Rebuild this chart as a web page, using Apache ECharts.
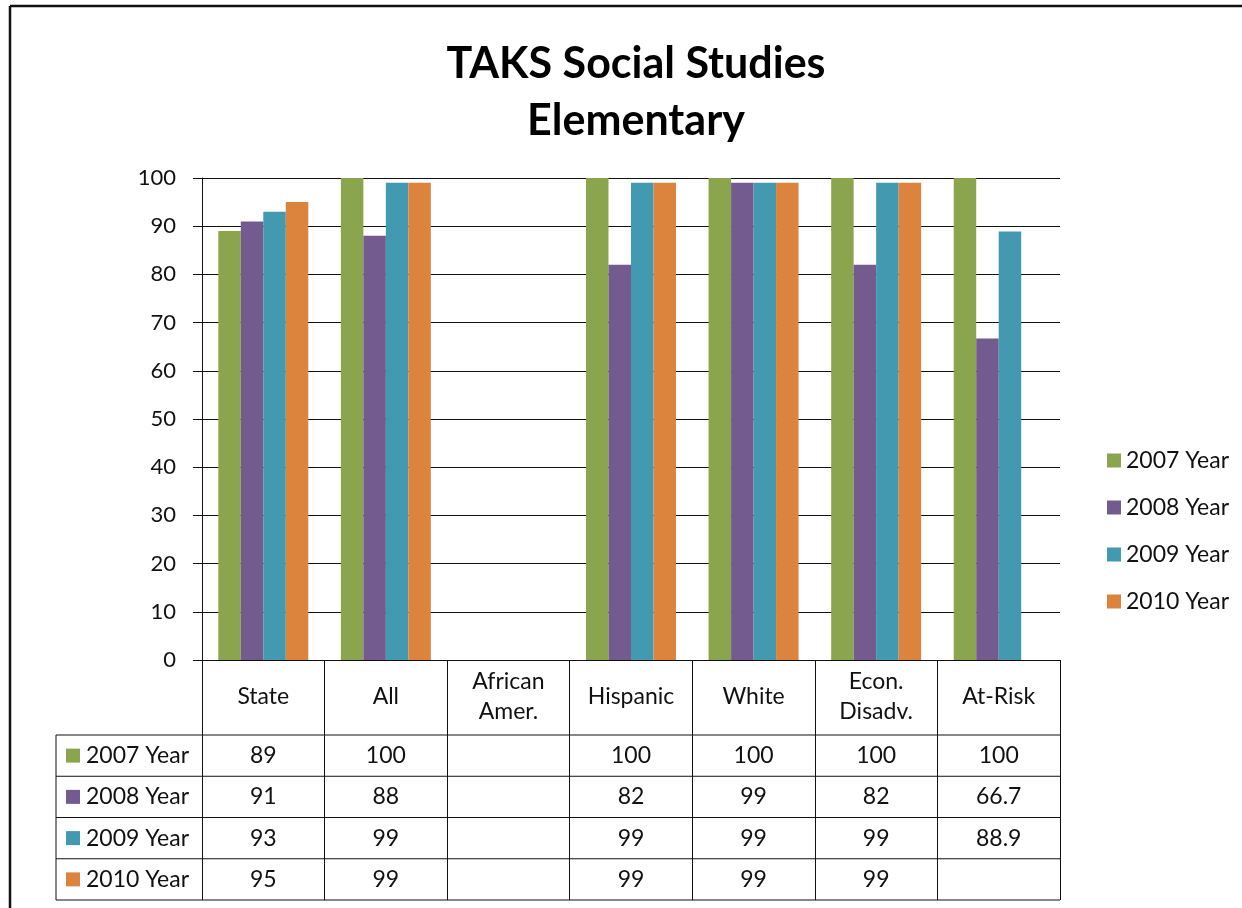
<!DOCTYPE html>
<html>
<head>
<meta charset="utf-8">
<script src="https://cdn.jsdelivr.net/npm/echarts@6/dist/echarts.min.js"></script>
<style>
html,body{margin:0;padding:0;background:#fff;}
#main{width:1242px;height:908px;}
</style>
</head>
<body>
<div id="main"></div>
<script>
const categories = ['State', 'All', 'African\nAmer.', 'Hispanic', 'White', 'Econ.\nDisadv.', 'At-Risk'];
const seriesNames = ['2007 Year', '2008 Year', '2009 Year', '2010 Year'];
const y2007 = [89, 100, null, 100, 100, 100, 100];
const y2008 = [91, 88, null, 82, 99, 82, 66.7];
const y2009 = [93, 99, null, 99, 99, 99, 88.9];
const y2010 = [95, 99, null, 99, 99, 99, null];
const yTicks = [0, 10, 20, 30, 40, 50, 60, 70, 80, 90, 100];

const colors = ['#8ba54e', '#735a8f', '#4299b0', '#dc843e'];
const FONT = 'Lato, "Open Sans", sans-serif';
const FS = 23;
const FSY = 22;
const seriesData = [y2007, y2008, y2009, y2010];

const chart = echarts.init(document.getElementById('main'), null, {renderer: 'canvas'});

const option = {
  backgroundColor: '#ffffff',
  animation: false,
  color: colors,
  title: {
    text: 'TAKS Social Studies\nElementary',
    left: 631,
    top: 31,
    textAlign: 'center',
    textStyle: {fontFamily: FONT, fontWeight: 'bold', fontSize: 43, lineHeight: 57, color: '#000'}
  },
  legend: {
    orient: 'vertical',
    left: 1102,
    top: 444,
    itemWidth: 14,
    itemHeight: 14,
    itemGap: 24,
    icon: 'rect',
    data: seriesNames,
    textStyle: {fontFamily: FONT, fontSize: FS, color: '#111'}
  },
  grid: {left: 202, right: 182, top: 178, bottom: 248, containLabel: false},
  xAxis: {
    type: 'category',
    data: categories,
    boundaryGap: true,
    axisLine: {show: true, lineStyle: {color: '#111', width: 1}},
    axisTick: {show: true, length: 240, lineStyle: {color: '#111', width: 1}},
    axisLabel: {
      interval: 0,
      margin: 37,
      verticalAlign: 'middle',
      fontFamily: FONT, fontSize: FS, lineHeight: 30, color: '#111'
    }
  },
  yAxis: {
    type: 'value',
    min: 0, max: 100, interval: 10,
    axisLine: {show: true, lineStyle: {color: '#111', width: 1}},
    axisTick: {show: true, length: 9, lineStyle: {color: '#111'}},
    splitLine: {show: true, lineStyle: {color: '#111', width: 1}},
    axisLabel: {margin: 26, fontFamily: FONT, fontSize: FSY, color: '#111'}
  },
  series: seriesNames.map((n, i) => ({
    name: n,
    type: 'bar',
    data: seriesData[i],
    barGap: '0%',
    barCategoryGap: '26.6%',
    itemStyle: {color: colors[i]}
  }))
};
chart.setOption(option);

// Data table built from the axis scale
const rect = chart.getModel().getComponent('grid').coordinateSystem.getRect();
const x1 = rect.x + rect.width;
const tableLeft = 56;
const headerBottom = 735;
const rowH = 41.25;
const rowTops = seriesNames.map((_, r) => headerBottom + r * rowH);
const tableBottom = headerBottom + seriesNames.length * rowH;
const stroke = {stroke: '#111', lineWidth: 1};
const g = [];
// frame
g.push({type: 'line', shape: {x1: 10, y1: 6, x2: 1242, y2: 6}, style: {stroke: '#111', lineWidth: 2.5}, silent: true});
g.push({type: 'line', shape: {x1: 10, y1: 6, x2: 10, y2: 908}, style: {stroke: '#111', lineWidth: 2.5}, silent: true});
// horizontal rows
[headerBottom].concat(rowTops.map(t => t + rowH)).forEach(y => {
  g.push({type: 'line', shape: {x1: tableLeft, y1: y, x2: x1, y2: y}, style: stroke, silent: true});
});
g.push({type: 'line', shape: {x1: tableLeft, y1: headerBottom, x2: tableLeft, y2: tableBottom}, style: stroke, silent: true});
// row labels and values
seriesNames.forEach((n, r) => {
  const cy = rowTops[r] + rowH / 2;
  g.push({type: 'rect', shape: {x: 66, y: cy - 7, width: 14, height: 14}, style: {fill: colors[r]}, silent: true});
  g.push({type: 'text', x: 86, y: cy, style: {text: n, fontFamily: FONT, fontSize: FS, fill: '#111', align: 'left', verticalAlign: 'middle'}, silent: true});
  seriesData[r].forEach((v, c) => {
    if (v === null || v === undefined) return;
    const cx = chart.convertToPixel({xAxisIndex: 0}, c);
    g.push({type: 'text', x: cx, y: cy, style: {text: String(v), fontFamily: FONT, fontSize: FS, fill: '#111', align: 'center', verticalAlign: 'middle'}, silent: true});
  });
});
chart.setOption({graphic: {elements: g}});
</script>
</body>
</html>
